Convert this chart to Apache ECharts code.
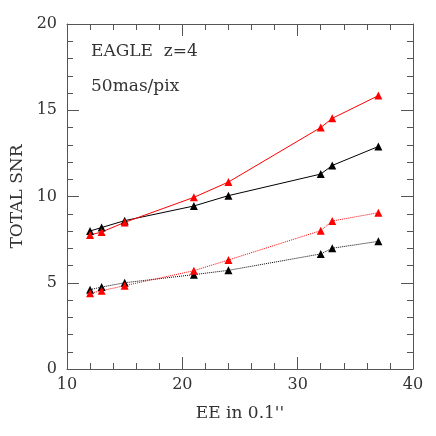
<!DOCTYPE html>
<html>
<head>
<meta charset="utf-8" />
<title></title>
<script src="https://cdn.jsdelivr.net/npm/echarts@6/dist/echarts.min.js"></script>
</head>
<body style="margin:0;">
<div id="main" style="width:436px;height:436px;"></div>
<script>
var ee = [12, 13, 15, 21, 24, 32, 33, 37];
var blackSolid = [8.0, 8.2, 8.6, 9.45, 10.05, 11.3, 11.8, 12.9];
var redSolid = [7.77, 7.94, 8.5, 9.95, 10.84, 14.0, 14.53, 15.85];
var blackDotted = [4.6, 4.75, 5.0, 5.47, 5.72, 6.67, 7.0, 7.4];
var redDotted = [4.39, 4.54, 4.83, 5.7, 6.32, 8.02, 8.58, 9.06];
var xTicks = [10, 20, 30, 40];
var yTicks = [0, 5, 10, 15, 20];

function pairs(ys) {
  var out = [];
  for (var i = 0; i < ee.length; i++) out.push([ee[i], ys[i]]);
  return out;
}

var font = 'DejaVu Serif';
var axisCol = '#555';

function line(name, ys, col, type) {
  return {
    name: name,
    type: 'line',
    data: pairs(ys),
    symbol: 'triangle',
    symbolSize: 8,
    itemStyle: { color: col },
    lineStyle: { color: col, width: 1, type: type },
    animation: false
  };
}

function xAx(pos, labels) {
  return {
    type: 'value', position: pos, min: xTicks[0], max: xTicks[xTicks.length - 1], interval: 10,
    axisLine: { onZero: false, lineStyle: { color: axisCol } },
    axisTick: { inside: true, length: 12, lineStyle: { color: axisCol } },
    minorTick: { show: true, splitNumber: 5, length: 6, lineStyle: { color: axisCol } },
    splitLine: { show: false },
    axisLabel: { show: labels, color: '#333', fontFamily: font, fontSize: 16, margin: 8 },
    name: labels ? 'EE in 0.1\'\'' : '',
    nameLocation: 'middle', nameGap: 36,
    nameTextStyle: { color: '#333', fontFamily: font, fontSize: 17 }
  };
}

function yAx(pos, labels) {
  return {
    type: 'value', position: pos, min: yTicks[0], max: yTicks[yTicks.length - 1], interval: 5,
    axisLine: { onZero: false, lineStyle: { color: axisCol } },
    axisTick: { inside: true, length: 12, lineStyle: { color: axisCol } },
    minorTick: { show: true, splitNumber: 5, length: 6, lineStyle: { color: axisCol } },
    splitLine: { show: false },
    axisLabel: { show: labels, color: '#333', fontFamily: font, fontSize: 16, margin: 10 },
    name: labels ? 'TOTAL SNR' : '',
    nameLocation: 'middle', nameGap: 41,
    nameTextStyle: { color: '#333', fontFamily: font, fontSize: 17 }
  };
}

var option = {
  backgroundColor: '#fff',
  grid: { left: 67, right: 23, top: 24, bottom: 67 },
  xAxis: [xAx('bottom', true), xAx('top', false)],
  yAxis: [yAx('left', true), yAx('right', false)],
  graphic: [
    { type: 'text', left: 91, top: 43, style: { text: 'EAGLE  z=4', fill: '#333', font: '17px "DejaVu Serif"' } },
    { type: 'text', left: 91, top: 78, style: { text: '50mas/pix', fill: '#333', font: '17px "DejaVu Serif"' } }
  ],
  series: [
    line('black solid', blackSolid, '#000', 'solid'),
    line('red solid', redSolid, '#ff0000', 'solid'),
    line('black dotted', blackDotted, '#000', 'dotted'),
    line('red dotted', redDotted, '#ff0000', 'dotted')
  ]
};

var myChart = echarts.init(document.getElementById('main'));
myChart.setOption(option);
</script>
</body>
</html>
